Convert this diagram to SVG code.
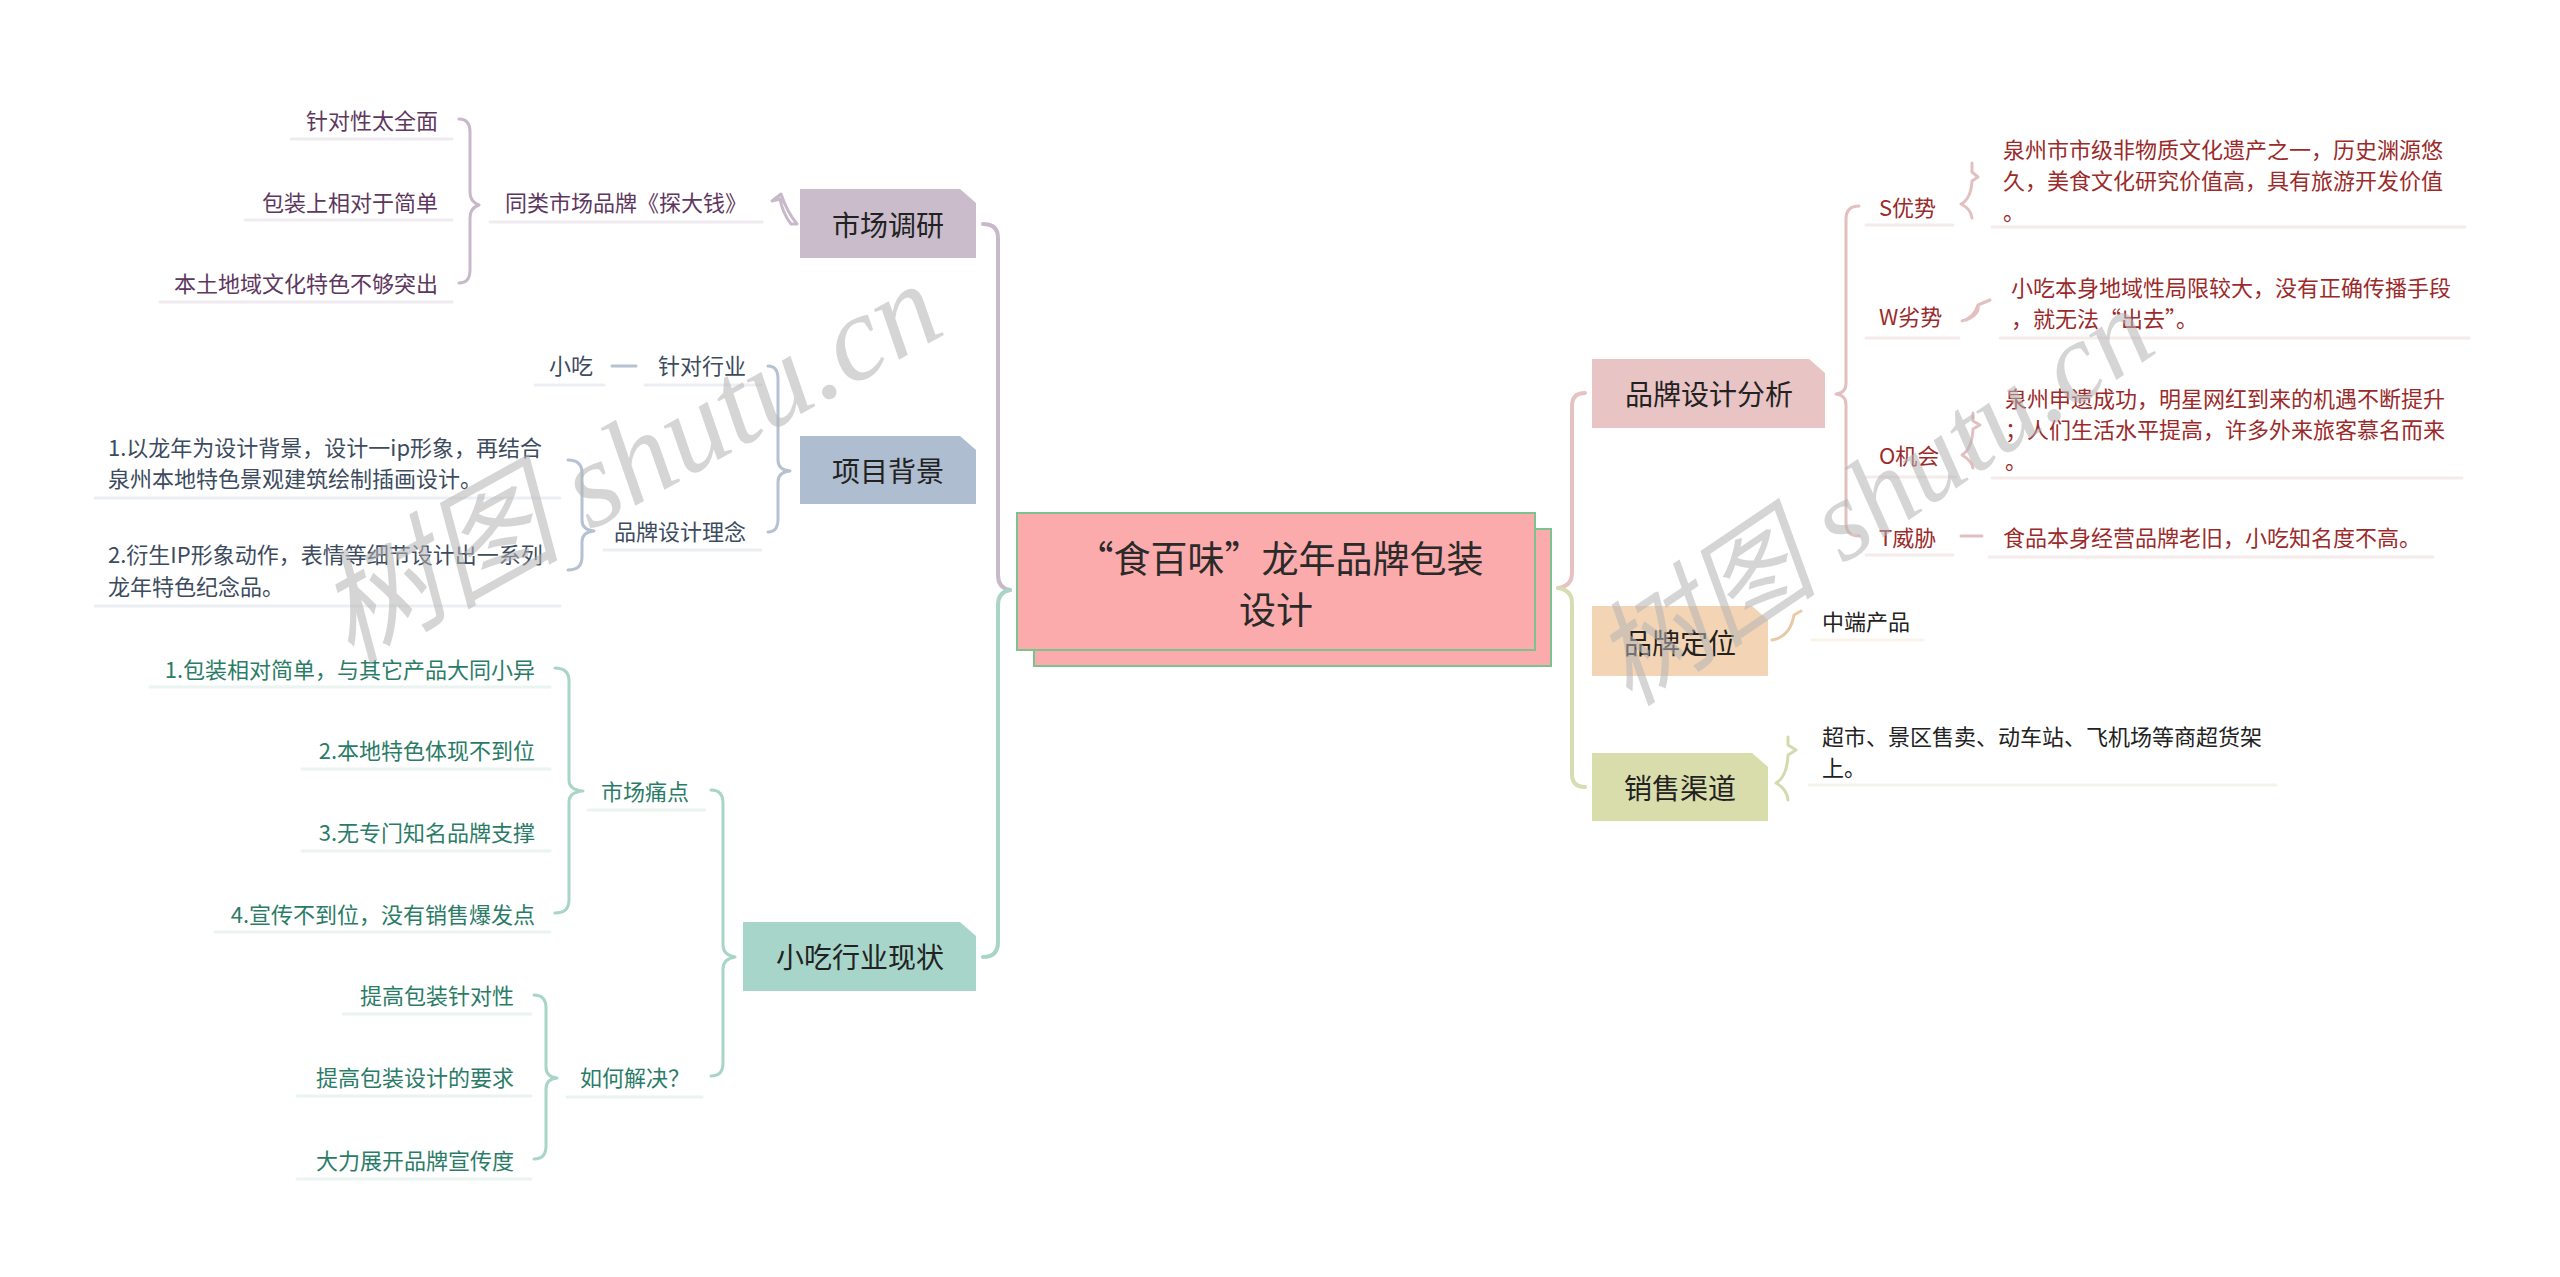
<svg xmlns="http://www.w3.org/2000/svg" width="2560" height="1277" viewBox="0 0 2560 1277">
<style>
text { font-family: "Noto Sans CJK SC", "Liberation Sans", sans-serif; dominant-baseline: central; }
.t22 { font-size: 22px; }
.t28 { font-size: 28px; fill: #222; }
.t36 { font-size: 37px; fill: #2a2a2a; }
.pu { fill: #5e3760; }
.bl { fill: #3d4b5e; }
.te { fill: #2b7c67; }
.re { fill: #9b2b2b; }
.bk { fill: #222; }
.ul { fill: none; stroke-width: 3; stroke-linecap: round; }
.c1 { fill: none; stroke-width: 4; stroke-linecap: round; stroke-linejoin: round; }
.c2 { fill: none; stroke-width: 3; stroke-linecap: round; stroke-linejoin: round; }
.wm { font-family: "Liberation Serif", "Noto Sans CJK SC", serif; font-style: italic; fill: #b4b4b4; opacity: 0.55; dominant-baseline: alphabetic; }
</style>
<rect width="2560" height="1277" fill="#ffffff"/>

<g id="connectors">
  <path class="c1" stroke="#c7b9c9" d="M1010,590 Q998,588 998,575 L998,238 Q998,224 983,224"/>
  <path class="c1" stroke="#a9d4c8" d="M1010,590 Q998,592 998,605 L998,942 Q998,957 983,957"/>
  <path class="c1" stroke="#e5c3c3" d="M1558,588 Q1572,586 1572,573 L1572,406 Q1572,393 1585,393"/>
  <path class="c1" stroke="#d8dcb2" d="M1558,588 Q1572,590 1572,603 L1572,774 Q1572,787 1585,787"/>

  <path class="c2" stroke="#c7b9c9" d="M459,119 Q470,119 470,132 L470,192 Q470,202 479,205 Q470,208 470,218 L470,270 Q470,283 459,283"/>
  <path class="c2" stroke="#c7b9c9" d="M797,224 L791,224 Q783,214 780,199 L772,201 L781,194 Q787,212 797,224 Z"/>

  <path class="c2" stroke="#b6c2d1" d="M768,366 Q778,366 778,379 L778,460 Q778,470 790,471 Q778,472 778,482 L778,519 Q778,532 768,532"/>
  <path class="c2" stroke="#b6c2d1" d="M612,366 L636,366"/>
  <path class="c2" stroke="#b6c2d1" d="M568,460 Q582,460 582,473 L582,520 Q582,530 594,531 Q582,532 582,542 L582,557 Q582,570 568,570"/>

  <path class="c2" stroke="#a9d4c8" d="M711,790 Q723,790 723,803 L723,945 Q723,955 735,957 Q723,959 723,969 L723,1063 Q723,1076 711,1076"/>
  <path class="c2" stroke="#a9d4c8" d="M555,668 Q569,668 569,681 L569,780 Q569,790 583,791 Q569,792 569,802 L569,900 Q569,913 555,913"/>
  <path class="c2" stroke="#a9d4c8" d="M534,995 Q546,995 546,1008 L546,1067 Q546,1077 557,1078 Q546,1079 546,1089 L546,1146 Q546,1159 534,1159"/>

  <path class="c2" stroke="#e2c0c0" d="M1859,206 Q1846,206 1846,219 L1846,383 Q1846,393 1836,394 Q1846,395 1846,405 L1846,523 Q1846,536 1859,536"/>
  <path class="c2" stroke="#e2c0c0" d="M1972,163 L1972,172 L1978,177 L1972,181 Q1971,199 1961,204 Q1971,209 1972,218"/>
  <path class="c2" stroke="#e2c0c0" d="M1962,321 Q1974,318 1978,305 L1990,300 M1978,305 Q1980,314 1966,320"/>
  <path class="c2" stroke="#e2c0c0" d="M1973,413 L1973,421 L1980,425 L1973,429 Q1972,449 1962,455 Q1972,461 1973,468"/>
  <path class="c2" stroke="#e2c0c0" d="M1961,536 L1982,536"/>

  <path class="c2" stroke="#e9c9a8" d="M1772,640 Q1790,637 1794,615 L1801,611"/>
  <path class="c2" stroke="#d5d9ae" d="M1788,737 L1788,745 L1796,750 L1788,755 Q1787,777 1776,783 Q1787,789 1788,800"/>
</g>

<g id="underlines">
  <g stroke="#efebf0">
    <path class="ul" d="M490,222 H762"/>
    <path class="ul" d="M291,139 H452"/>
    <path class="ul" d="M245,220 H452"/>
    <path class="ul" d="M160,302 H452"/>
  </g>
  <g stroke="#ebeff3">
    <path class="ul" d="M645,385 H761"/>
    <path class="ul" d="M535,385 H604"/>
    <path class="ul" d="M604,550 H761"/>
    <path class="ul" d="M95,498 H560"/>
    <path class="ul" d="M95,606 H560"/>
  </g>
  <g stroke="#eaf4f1">
    <path class="ul" d="M588,810 H705"/>
    <path class="ul" d="M567,1097 H702"/>
    <path class="ul" d="M150,687 H550"/>
    <path class="ul" d="M302,769 H550"/>
    <path class="ul" d="M302,851 H550"/>
    <path class="ul" d="M215,932 H550"/>
    <path class="ul" d="M343,1014 H531"/>
    <path class="ul" d="M297,1096 H531"/>
    <path class="ul" d="M297,1179 H531"/>
  </g>
  <g stroke="#f5ebeb">
    <path class="ul" d="M1866,225 H1953"/>
    <path class="ul" d="M1866,338 H1959"/>
    <path class="ul" d="M1866,477 H1956"/>
    <path class="ul" d="M1866,555 H1953"/>
    <path class="ul" d="M1992,227 H2465"/>
    <path class="ul" d="M2000,338 H2469"/>
    <path class="ul" d="M1992,478 H2462"/>
    <path class="ul" d="M1989,557 H2433"/>
  </g>
  <path class="ul" stroke="#fbf3e8" d="M1812,640 H1923"/>
  <path class="ul" stroke="#f4f5ea" d="M1809,785 H2276"/>
</g>

<g id="center">
  <rect x="1034" y="529" width="517" height="137" fill="#fbabab" stroke="#7cc28e" stroke-width="2"/>
  <rect x="1017" y="513" width="518" height="137" fill="#fbabab" stroke="#7cc28e" stroke-width="2"/>
  <text class="t36" x="1280" y="557" text-anchor="middle">“食百味”龙年品牌包装</text>
  <text class="t36" x="1276" y="608" text-anchor="middle">设计</text>
</g>

<g id="n-shichangdiaoyan">
  <path d="M800,189 H960 L976,203 V258 H800 Z" fill="#cabccb"/>
  <text class="t28" x="888" y="224" text-anchor="middle">市场调研</text>
</g>
<g id="n-tonglei">
  <text class="t22 pu" x="505" y="201">同类市场品牌《探大钱》</text>
</g>
<g id="n-tonglei-c1"><text class="t22 pu" x="438" y="119" text-anchor="end">针对性太全面</text></g>
<g id="n-tonglei-c2"><text class="t22 pu" x="438" y="201" text-anchor="end">包装上相对于简单</text></g>
<g id="n-tonglei-c3"><text class="t22 pu" x="438" y="282" text-anchor="end">本土地域文化特色不够突出</text></g>

<g id="n-xiangmubeijing">
  <path d="M800,436 H960 L976,450 V504 H800 Z" fill="#aebdcf"/>
  <text class="t28" x="888" y="470" text-anchor="middle">项目背景</text>
</g>
<g id="n-zhendui"><text class="t22 bl" x="746" y="364" text-anchor="end">针对行业</text></g>
<g id="n-xiaochi"><text class="t22 bl" x="593" y="364" text-anchor="end">小吃</text></g>
<g id="n-linian"><text class="t22 bl" x="746" y="530" text-anchor="end">品牌设计理念</text></g>
<g id="n-linian-c1">
  <text class="t22 bl" x="108" y="446">1.以龙年为设计背景，设计一ip形象，再结合</text>
  <text class="t22 bl" x="108" y="477">泉州本地特色景观建筑绘制插画设计。</text>
</g>
<g id="n-linian-c2">
  <text class="t22 bl" x="108" y="553">2.衍生IP形象动作，表情等细节设计出一系列</text>
  <text class="t22 bl" x="108" y="585">龙年特色纪念品。</text>
</g>

<g id="n-xiaochihangye">
  <path d="M743,922 H960 L976,936 V991 H743 Z" fill="#a7d5c9"/>
  <text class="t28" x="860" y="956" text-anchor="middle">小吃行业现状</text>
</g>
<g id="n-tongdian"><text class="t22 te" x="601" y="790">市场痛点</text></g>
<g id="n-tongdian-c1"><text class="t22 te" x="535" y="668" text-anchor="end">1.包装相对简单，与其它产品大同小异</text></g>
<g id="n-tongdian-c2"><text class="t22 te" x="535" y="749" text-anchor="end">2.本地特色体现不到位</text></g>
<g id="n-tongdian-c3"><text class="t22 te" x="535" y="831" text-anchor="end">3.无专门知名品牌支撑</text></g>
<g id="n-tongdian-c4"><text class="t22 te" x="535" y="913" text-anchor="end">4.宣传不到位，没有销售爆发点</text></g>
<g id="n-jiejue"><text class="t22 te" x="580" y="1076">如何解决？</text></g>
<g id="n-jiejue-c1"><text class="t22 te" x="514" y="994" text-anchor="end">提高包装针对性</text></g>
<g id="n-jiejue-c2"><text class="t22 te" x="514" y="1076" text-anchor="end">提高包装设计的要求</text></g>
<g id="n-jiejue-c3"><text class="t22 te" x="514" y="1159" text-anchor="end">大力展开品牌宣传度</text></g>

<g id="n-fenxi">
  <path d="M1592,359 H1809 L1825,373 V428 H1592 Z" fill="#e8c4c4"/>
  <text class="t28" x="1709" y="393" text-anchor="middle">品牌设计分析</text>
</g>
<g id="n-s"><text class="t22 re" x="1879" y="206">S优势</text></g>
<g id="n-s-c">
  <text class="t22 re" x="2003" y="148">泉州市市级非物质文化遗产之一，历史渊源悠</text>
  <text class="t22 re" x="2003" y="179">久，美食文化研究价值高，具有旅游开发价值</text>
  <text class="t22 re" x="2003" y="210">。</text>
</g>
<g id="n-w"><text class="t22 re" x="1879" y="315">W劣势</text></g>
<g id="n-w-c">
  <text class="t22 re" x="2011" y="286">小吃本身地域性局限较大，没有正确传播手段</text>
  <text class="t22 re" x="2011" y="317">，就无法“出去”。</text>
</g>
<g id="n-o"><text class="t22 re" x="1879" y="454">O机会</text></g>
<g id="n-o-c">
  <text class="t22 re" x="2005" y="397">泉州申遗成功，明星网红到来的机遇不断提升</text>
  <text class="t22 re" x="2005" y="428">；人们生活水平提高，许多外来旅客慕名而来</text>
  <text class="t22 re" x="2005" y="459">。</text>
</g>
<g id="n-t"><text class="t22 re" x="1879" y="536">T威胁</text></g>
<g id="n-t-c"><text class="t22 re" x="2003" y="536">食品本身经营品牌老旧，小吃知名度不高。</text></g>

<g id="n-dingwei">
  <path d="M1592,606 H1752 L1768,620 V676 H1592 Z" fill="#f3d4b4"/>
  <text class="t28" x="1680" y="642" text-anchor="middle">品牌定位</text>
</g>
<g id="n-dingwei-c"><text class="t22 bk" x="1822" y="620">中端产品</text></g>

<g id="n-qudao">
  <path d="M1592,753 H1752 L1768,767 V821 H1592 Z" fill="#d9dcab"/>
  <text class="t28" x="1680" y="787" text-anchor="middle">销售渠道</text>
</g>
<g id="n-qudao-c">
  <text class="t22 bk" x="1822" y="735">超市、景区售卖、动车站、飞机场等商超货架</text>
  <text class="t22 bk" x="1822" y="766">上。</text>
</g>

<g id="watermark">
  <text class="wm" font-size="122" transform="translate(350,664) rotate(-29)">树图 shutu.cn</text>
  <text class="wm" font-size="114" transform="translate(1630,708) rotate(-34)">树图 shutu.cn</text>
</g>
</svg>
